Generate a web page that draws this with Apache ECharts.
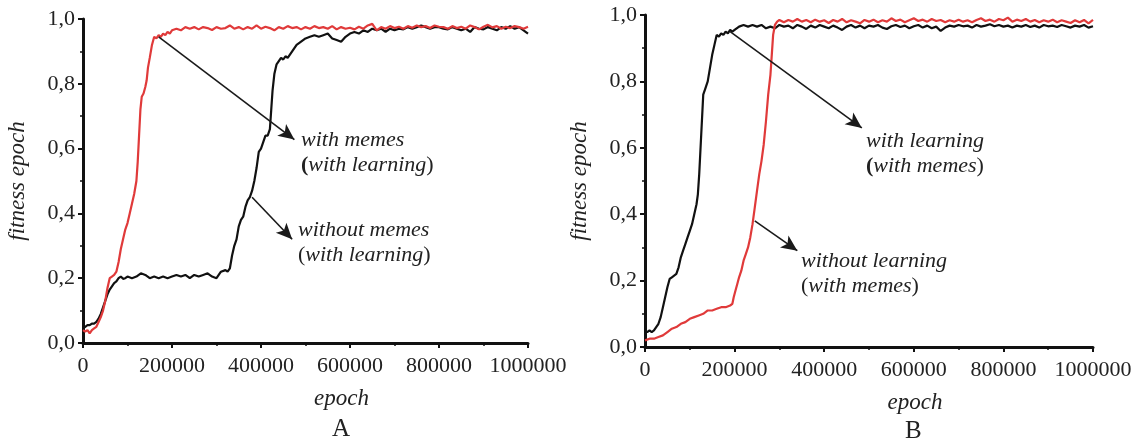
<!DOCTYPE html>
<html>
<head>
<meta charset="utf-8">
<script src="https://cdn.jsdelivr.net/npm/echarts@6/dist/echarts.min.js"></script>
<style>
  html, body { margin: 0; padding: 0; background: #fff; }
  #chart { width: 1141px; height: 443px; }
</style>
</head>
<body>
<div id="chart"></div>
<script>
// panel A, red: with memes (with learning)
var memesA = [
    [0,0.04],[5000,0.035],[10000,0.04],[15000,0.03],[20000,0.04],[25000,0.045],[30000,0.05],[35000,0.065],
    [40000,0.08],[45000,0.1],[50000,0.13],[55000,0.17],[60000,0.2],[65000,0.205],[70000,0.21],[75000,0.22],
    [80000,0.25],[85000,0.29],[90000,0.32],[95000,0.35],[100000,0.37],[105000,0.4],[110000,0.43],[115000,0.46],
    [120000,0.5],[123000,0.56],[126000,0.64],[129000,0.72],[132000,0.76],[136000,0.77],[140000,0.79],[143000,0.81],
    [146000,0.85],[150000,0.88],[155000,0.92],[160000,0.945],[165000,0.94],[170000,0.95],[175000,0.945],[180000,0.955],
    [185000,0.95],[190000,0.96],[195000,0.955],[200000,0.965],[210000,0.97],[220000,0.965],[230000,0.975],[240000,0.97],
    [250000,0.975],[260000,0.968],[270000,0.975],[280000,0.972],[290000,0.966],[300000,0.975],[310000,0.97],[320000,0.972],
    [330000,0.98],[340000,0.97],[350000,0.975],[360000,0.968],[370000,0.975],[380000,0.97],[390000,0.98],[400000,0.97],
    [410000,0.976],[420000,0.972],[430000,0.965],[440000,0.975],[450000,0.97],[460000,0.978],[470000,0.972],[480000,0.975],
    [490000,0.968],[500000,0.975],[510000,0.97],[520000,0.978],[530000,0.972],[540000,0.975],[550000,0.97],[560000,0.978],
    [570000,0.968],[580000,0.975],[590000,0.97],[600000,0.973],[610000,0.968],[620000,0.976],[630000,0.97],[640000,0.98],
    [650000,0.985],[660000,0.965],[670000,0.975],[680000,0.97],[690000,0.978],[700000,0.972],[710000,0.976],[720000,0.97],
    [730000,0.978],[740000,0.973],[750000,0.98],[760000,0.975],[770000,0.978],[780000,0.972],[790000,0.98],[800000,0.976],
    [810000,0.975],[820000,0.97],[830000,0.978],[840000,0.972],[850000,0.976],[860000,0.97],[870000,0.98],[880000,0.975],
    [890000,0.968],[900000,0.976],[910000,0.982],[920000,0.974],[930000,0.978],[940000,0.97],[950000,0.976],[960000,0.972],
    [970000,0.978],[980000,0.975],[990000,0.97],[1000000,0.976]
];
// panel A, black: without memes (with learning)
var noMemesA = [
    [0,0.045],[5000,0.05],[10000,0.055],[15000,0.055],[20000,0.06],[25000,0.06],[30000,0.065],[35000,0.075],
    [40000,0.09],[45000,0.11],[50000,0.13],[55000,0.15],[60000,0.165],[65000,0.175],[70000,0.185],[75000,0.19],
    [80000,0.2],[85000,0.205],[90000,0.198],[95000,0.2],[100000,0.205],[110000,0.2],[120000,0.205],[130000,0.215],
    [140000,0.21],[150000,0.2],[160000,0.205],[170000,0.2],[180000,0.205],[190000,0.2],[200000,0.205],[210000,0.21],
    [220000,0.205],[230000,0.21],[240000,0.2],[250000,0.21],[260000,0.205],[270000,0.21],[280000,0.215],[290000,0.205],
    [300000,0.2],[305000,0.21],[310000,0.22],[320000,0.225],[325000,0.22],[330000,0.23],[335000,0.27],[340000,0.3],
    [345000,0.32],[350000,0.36],[355000,0.38],[360000,0.39],[365000,0.42],[370000,0.44],[375000,0.45],[380000,0.47],
    [385000,0.5],[390000,0.54],[395000,0.59],[400000,0.6],[405000,0.62],[410000,0.64],[415000,0.64],[420000,0.66],
    [423000,0.72],[426000,0.78],[430000,0.83],[435000,0.86],[440000,0.87],[445000,0.88],[450000,0.875],[455000,0.885],
    [460000,0.88],[465000,0.89],[470000,0.9],[475000,0.91],[480000,0.92],[490000,0.93],[500000,0.94],[510000,0.945],
    [520000,0.95],[530000,0.945],[540000,0.95],[550000,0.955],[560000,0.94],[570000,0.935],[580000,0.93],[590000,0.945],
    [600000,0.955],[610000,0.96],[620000,0.955],[630000,0.965],[640000,0.96],[650000,0.97],[660000,0.965],[670000,0.97],
    [680000,0.96],[690000,0.97],[700000,0.965],[710000,0.97],[720000,0.968],[730000,0.975],[740000,0.97],[750000,0.975],
    [760000,0.98],[770000,0.975],[780000,0.97],[790000,0.975],[800000,0.975],[810000,0.97],[820000,0.968],[830000,0.975],
    [840000,0.97],[850000,0.965],[860000,0.97],[870000,0.96],[880000,0.975],[890000,0.97],[900000,0.968],[910000,0.975],
    [920000,0.97],[930000,0.965],[940000,0.975],[950000,0.97],[960000,0.978],[970000,0.97],[980000,0.975],[990000,0.965],
    [1000000,0.955]
];
// panel B, black: with learning (with memes)
var learningB = [
    [0,0.05],[5000,0.045],[10000,0.05],[15000,0.045],[20000,0.05],[25000,0.06],[30000,0.07],[35000,0.09],
    [40000,0.12],[45000,0.15],[50000,0.18],[55000,0.205],[60000,0.21],[65000,0.215],[70000,0.22],[75000,0.24],
    [80000,0.27],[85000,0.29],[90000,0.31],[95000,0.33],[100000,0.35],[105000,0.37],[110000,0.4],[115000,0.43],
    [118000,0.46],[121000,0.52],[124000,0.6],[127000,0.68],[130000,0.76],[135000,0.78],[140000,0.8],[145000,0.84],
    [150000,0.88],[155000,0.91],[160000,0.94],[165000,0.935],[170000,0.945],[175000,0.94],[180000,0.95],[185000,0.945],
    [190000,0.955],[195000,0.95],[200000,0.955],[210000,0.965],[220000,0.97],[230000,0.965],[240000,0.97],[250000,0.965],
    [260000,0.97],[270000,0.96],[280000,0.965],[290000,0.96],[300000,0.97],[310000,0.965],[320000,0.968],[330000,0.96],
    [340000,0.97],[350000,0.965],[360000,0.958],[370000,0.968],[380000,0.962],[390000,0.97],[400000,0.965],[410000,0.96],
    [420000,0.968],[430000,0.962],[440000,0.955],[450000,0.965],[460000,0.97],[470000,0.962],[480000,0.968],[490000,0.96],
    [500000,0.968],[510000,0.965],[520000,0.97],[530000,0.962],[540000,0.958],[550000,0.966],[560000,0.97],[570000,0.964],
    [580000,0.968],[590000,0.96],[600000,0.966],[610000,0.97],[620000,0.962],[630000,0.968],[640000,0.96],[650000,0.965],
    [660000,0.952],[670000,0.962],[680000,0.968],[690000,0.965],[700000,0.97],[710000,0.966],[720000,0.968],[730000,0.962],
    [740000,0.97],[750000,0.965],[760000,0.968],[770000,0.972],[780000,0.966],[790000,0.97],[800000,0.965],[810000,0.968],
    [820000,0.962],[830000,0.968],[840000,0.965],[850000,0.97],[860000,0.964],[870000,0.968],[880000,0.962],[890000,0.97],
    [900000,0.966],[910000,0.968],[920000,0.964],[930000,0.97],[940000,0.966],[950000,0.962],[960000,0.968],[970000,0.965],
    [980000,0.97],[990000,0.962],[1000000,0.966]
];
// panel B, red: without learning (with memes)
var noLearningB = [
    [0,0.02],[10000,0.025],[20000,0.025],[30000,0.03],[40000,0.035],[50000,0.045],[60000,0.055],[70000,0.06],
    [80000,0.07],[90000,0.075],[100000,0.085],[110000,0.09],[120000,0.095],[130000,0.1],[140000,0.11],[150000,0.11],
    [160000,0.115],[170000,0.12],[180000,0.12],[190000,0.125],[195000,0.13],[198000,0.15],[202000,0.17],[206000,0.19],
    [210000,0.21],[215000,0.23],[220000,0.26],[225000,0.28],[230000,0.3],[235000,0.33],[240000,0.37],[245000,0.42],
    [250000,0.47],[255000,0.52],[260000,0.56],[265000,0.61],[270000,0.68],[275000,0.76],[280000,0.82],[283000,0.88],
    [286000,0.94],[290000,0.97],[295000,0.98],[300000,0.985],[310000,0.978],[320000,0.985],[330000,0.98],[340000,0.988],
    [350000,0.98],[360000,0.985],[370000,0.978],[380000,0.986],[390000,0.98],[400000,0.984],[410000,0.976],[420000,0.985],
    [430000,0.98],[440000,0.988],[450000,0.978],[460000,0.984],[470000,0.98],[480000,0.975],[490000,0.985],[500000,0.98],
    [510000,0.986],[520000,0.978],[530000,0.984],[540000,0.98],[550000,0.99],[560000,0.982],[570000,0.986],[580000,0.978],
    [590000,0.984],[600000,0.99],[610000,0.982],[620000,0.986],[630000,0.98],[640000,0.988],[650000,0.982],[660000,0.985],
    [670000,0.978],[680000,0.984],[690000,0.98],[700000,0.986],[710000,0.98],[720000,0.984],[730000,0.978],[740000,0.985],
    [750000,0.99],[760000,0.982],[770000,0.986],[780000,0.98],[790000,0.988],[800000,0.984],[810000,0.992],[820000,0.98],
    [830000,0.986],[840000,0.982],[850000,0.988],[860000,0.98],[870000,0.985],[880000,0.978],[890000,0.984],[900000,0.98],
    [910000,0.986],[920000,0.978],[930000,0.984],[940000,0.98],[950000,0.976],[960000,0.984],[970000,0.978],[980000,0.985],
    [990000,0.975],[1000000,0.985]
];

var xTicks = [0, 200000, 400000, 600000, 800000, 1000000];
var yTicks = [0, 0.2, 0.4, 0.6, 0.8, 1.0];

var chart = echarts.init(document.getElementById('chart'));
var FONT = 'Liberation Serif';
var RED = '#e03a3a';
var BLACK = '#111111';

function xAxisOf(gridIndex, shift) {
    return {
        type: 'value', gridIndex: gridIndex, min: 0, max: 1000000, interval: 200000,
        name: 'epoch', nameLocation: 'middle', nameGap: 44,
        nameTextStyle: { fontFamily: FONT, fontStyle: 'italic', fontSize: 23, color: '#222',
            padding: [0, 0, 0, shift] },
        axisLine: { onZero: false, lineStyle: { color: BLACK, width: 3 } },
        axisTick: { length: 5, lineStyle: { color: BLACK, width: 2 } },
        minorTick: { show: true, splitNumber: 2, length: 3, lineStyle: { color: BLACK, width: 1.5 } },
        splitLine: { show: false },
        axisLabel: { fontFamily: FONT, fontSize: 22, color: '#222', margin: 12,
            formatter: function (v) { return String(v); } }
    };
}
function yAxisOf(gridIndex) {
    return {
        type: 'value', gridIndex: gridIndex, min: 0, max: 1, interval: 0.2,
        name: 'fitness epoch', nameLocation: 'middle', nameGap: 54,
        nameTextStyle: { fontFamily: FONT, fontStyle: 'italic', fontSize: 23, color: '#222' },
        axisLine: { show: true, lineStyle: { color: BLACK, width: 3 } },
        axisTick: { show: true, length: 5, lineStyle: { color: BLACK, width: 2 } },
        minorTick: { show: true, splitNumber: 2, length: 3, lineStyle: { color: BLACK, width: 1.5 } },
        splitLine: { show: false },
        axisLabel: { fontFamily: FONT, fontSize: 22, color: '#222', margin: 8,
            formatter: function (v) { return v.toFixed(1).replace('.', ','); } }
    };
}
function arrow(from, to) {
    return {
        silent: true, symbol: ['none', 'arrow'], symbolSize: [11, 16],
        lineStyle: { color: '#1a1a1a', width: 1.6, type: 'solid' },
        label: { show: false },
        data: [[{ coord: from }, { coord: to }]]
    };
}
function curve(name, data, color, xi, arrowLine) {
    return {
        name: name, type: 'line', xAxisIndex: xi, yAxisIndex: xi,
        data: data, showSymbol: false, symbol: 'none', smooth: false,
        lineStyle: { color: color, width: 2.2 }, itemStyle: { color: color },
        markLine: arrowLine, animation: false
    };
}
function note(left, top, l1, l2) {
    return {
        type: 'text', left: left, top: top,
        style: {
            text: '{i|' + l1 + '}\n' + l2,
            rich: {
                i: { fontFamily: FONT, fontStyle: 'italic', fontSize: 22, fill: '#222', lineHeight: 25 },
                n: { fontFamily: FONT, fontSize: 22, fill: '#222', lineHeight: 25 },
                b: { fontFamily: FONT, fontSize: 22, fontWeight: 'bold', fill: '#222', lineHeight: 25 }
            }
        }
    };
}

chart.setOption({
    backgroundColor: '#fff',
    animation: false,
    grid: [
        { left: 83, top: 19, width: 445, height: 324 },
        { left: 645, top: 15, width: 448, height: 332 }
    ],
    xAxis: [xAxisOf(0, 72), xAxisOf(1, 92)],
    yAxis: [yAxisOf(0), yAxisOf(1)],
    series: [
        curve('without memes', noMemesA, BLACK, 0, arrow([380000, 0.45], [470000, 0.32])),
        curve('with memes', memesA, RED, 0, arrow([170000, 0.945], [475000, 0.628])),
        curve('with learning', learningB, BLACK, 1, arrow([190000, 0.95], [484000, 0.66])),
        curve('without learning', noLearningB, RED, 1, arrow([245000, 0.38], [340000, 0.29]))
    ],
    graphic: [
        note(301, 129, 'with memes', '{b|(}{i|with learning}{n|)}'),
        note(298, 219, 'without memes', '{n|(}{i|with learning}{n|)}'),
        note(866, 130, 'with learning', '{b|(}{i|with memes}{n|)}'),
        note(801, 250, 'without learning', '{n|(}{i|with memes}{n|)}'),
        { type: 'text', left: 332, top: 417, style: { text: 'A', fontFamily: FONT, fontSize: 25, fill: '#222' } },
        { type: 'text', left: 905, top: 419, style: { text: 'B', fontFamily: FONT, fontSize: 25, fill: '#222' } }
    ]
});
</script>
</body>
</html>
